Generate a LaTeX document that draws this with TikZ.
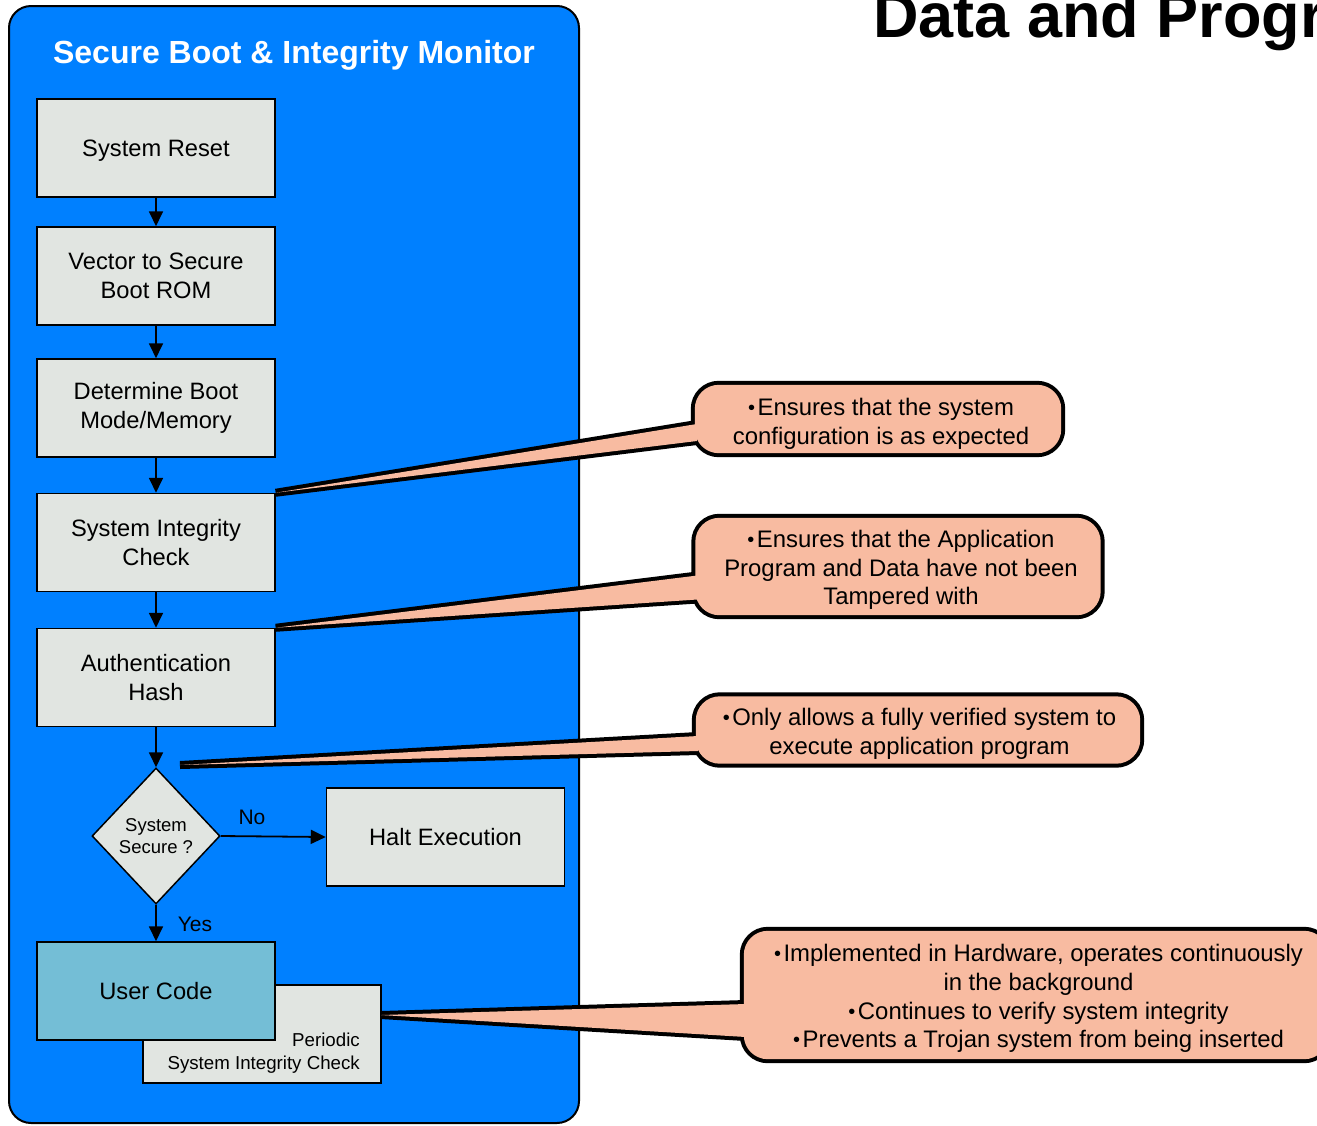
\documentclass[tikz,border=0pt]{standalone}
\usepackage{fontspec}
\setmainfont{Liberation Sans}
\usetikzlibrary{arrows.meta,shapes.geometric,calc}
\definecolor{panelblue}{HTML}{0080FF}
\definecolor{boxgray}{HTML}{E1E5E1}
\definecolor{usercyan}{HTML}{74BED6}
\definecolor{balloonfill}{HTML}{F8BBA1}
\pgfdeclarelayer{front}
\pgfsetlayers{main,front}

% small list bullet used in the balloons
\newcommand{\bul}{\raisebox{1pt}{\fontsize{20}{20}\selectfont•}\hspace{2.5pt}}

% speech balloon: #1 frame node, #2 tip, #3/#4 offsets of the pointer base below #1.west
\newcommand{\balloon}[4]{%
  \path[draw=black, line width=8pt, rounded corners=24pt]
    (#1.south west) rectangle (#1.north east);
  \path[draw=black, line width=8pt]
    (#2) -- ($(#1.west)+(2,#3)$) -- ($(#1.west)+(2,#4)$) -- cycle;
  \fill[balloonfill, rounded corners=24pt]
    (#1.south west) rectangle (#1.north east);
  \fill[balloonfill]
    (#2) -- ($(#1.west)+(2,#3)$) -- ($(#1.west)+(2,#4)$) -- cycle;
}

\begin{document}
\begin{tikzpicture}[x=1pt, y={(0pt,-1pt)},
  stepbox/.style={draw=black, line width=1.5pt, fill=boxgray,
    minimum width=238pt, minimum height=98pt, inner sep=0pt,
    align=center, font=\fontsize{23.7}{28.5}\selectfont},
  oneline/.style={text height=17pt, text depth=0pt},
  decision/.style={diamond, draw=black, line width=1.5pt, fill=boxgray,
    minimum width=128pt, minimum height=136pt, inner sep=0pt,
    align=center, font=\fontsize{18.5}{22}\selectfont},
  flow/.style={line width=1.8pt, -{Triangle[length=15pt,width=14pt]}},
  frame/.style={inner sep=0pt},
  btext/.style={inner sep=0pt, align=center,
    font=\fontsize{23.9}{28.7}\selectfont},
  small/.style={font=\fontsize{21}{25}\selectfont, inner sep=0pt},
]
\useasboundingbox (0,0) rectangle (1317,1125);
\clip (0,0) rectangle (1317,1125);

% page heading
\node[anchor=base west, inner sep=0pt, font=\bfseries\fontsize{63}{72}\selectfont]
  (heading) at (873,37) {Data and Program};

% blue panel
\draw[line width=2pt, fill=panelblue, rounded corners=22pt] (9,6) rectangle (579,1123);
\node[anchor=base, inner sep=0pt, text=white, font=\bfseries\fontsize{32}{38}\selectfont]
  (title) at (294,63) {Secure Boot \& Integrity Monitor};

% flow boxes
\node[stepbox, oneline] (reset) at (156,148) {System Reset};
\node[stepbox] (vector) at (156,276)   {Vector to Secure\\Boot ROM};
\node[stepbox] (mode)   at (156,408)   {Determine Boot\\Mode/Memory};
\node[stepbox] (sic)    at (156,542.5) {System Integrity\\Check};
\node[stepbox] (hash)   at (156,677.5) {Authentication\\Hash};
\node[decision] (secure) at (156,836)  {System\\Secure ?};
\node[stepbox, oneline] (halt) at (445.5,837) {Halt Execution};

% periodic check box behind user code
\node[stepbox] (periodic) at (262,1034) {};
\node[anchor=east, align=right, inner sep=0pt, font=\fontsize{18.7}{23}\selectfont]
  (periodictext) at (360,1053.5) {Periodic\\System Integrity Check};
\node[stepbox, oneline, fill=usercyan] (user) at (156,991) {User Code};

% connectors
\draw[flow] (reset.south)  -- (vector.north);
\draw[flow] (vector.south) -- (mode.north);
\draw[flow] (mode.south)   -- (sic.north);
\draw[flow] (sic.south)    -- (hash.north);
\draw[flow] (hash.south)   -- (secure.north);
\draw[flow] (secure.south) -- (user.north);
\draw[flow] (secure.east)  -- (halt.west);
\node[small] (no)  at (252,817) {No};
\node[small] (yes) at (195,924) {Yes};

% balloon frames
\node[frame, minimum width=366pt, minimum height=68pt]  (c1) at (878,419) {};
\node[frame, minimum width=405pt, minimum height=97pt]  (c2) at (898,566.5) {};
\node[frame, minimum width=444pt, minimum height=67pt]  (c3) at (918,730) {};
\node[frame, minimum width=584pt, minimum height=128pt] (c4) at (1036,995) {};

% balloon texts
\begin{pgfonlayer}{front}
\node[btext] (c1text) at (881,423.5)
  {\bul Ensures that the system\\configuration is as expected};
\node[btext] (c2text) at (901,570)
  {\bul Ensures that the Application\\Program and Data have not been\\Tampered with};
\node[btext] (c3text) at (919.5,733.5)
  {\bul Only allows a fully verified system to\\execute application program};
\node[btext] (c4text) at (1038.5,998.5)
  {\bul Implemented in Hardware, operates continuously\\in the background\\\bul Continues to verify system integrity\\\bul Prevents a Trojan system from being inserted};
\end{pgfonlayer}

\coordinate (c3tip) at (180,765);
\coordinate (c4tip) at (381,1015);

\balloon{c1}{sic.north east}{5}{22}
\balloon{c2}{hash.north east}{9}{33}
\balloon{c3}{c3tip}{6}{21}
\balloon{c4}{c4tip}{9}{42}
\end{tikzpicture}
\end{document}
